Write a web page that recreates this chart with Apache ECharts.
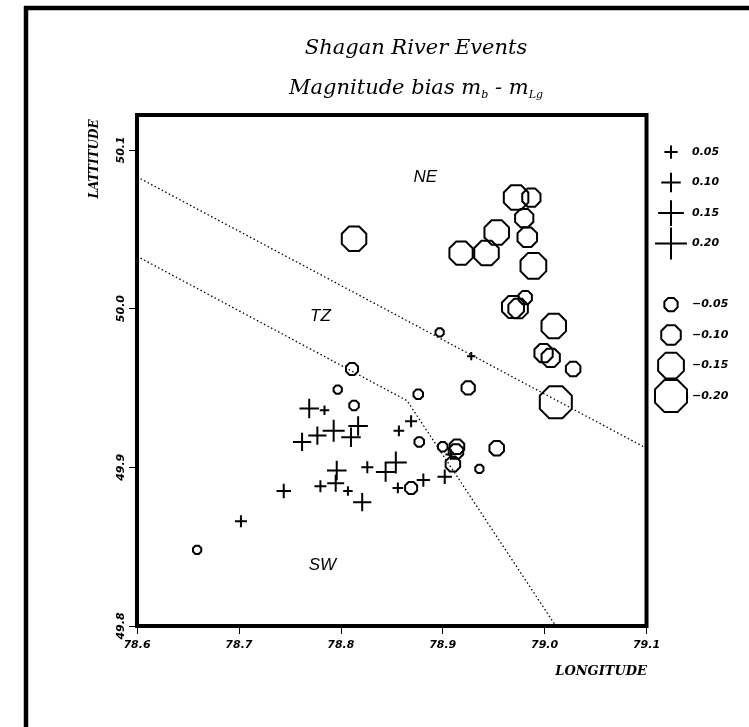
<!DOCTYPE html>
<html>
<head>
<meta charset="utf-8">
<script src="https://cdn.jsdelivr.net/npm/echarts@6/dist/echarts.min.js"></script>
<style>
  html, body { margin: 0; padding: 0; background: #fff; }
  #chart { width: 749px; height: 727px; }
</style>
</head>
<body>
<div id="chart"></div>
<script>
// Events with positive magnitude bias mb - mLg: [longitude, latitude, bias]
const positiveEvents = [
  [78.769, 49.937, 0.10], [78.784, 49.936, 0.02], [78.793, 49.923, 0.12],
  [78.777, 49.920, 0.09], [78.762, 49.916, 0.09], [78.817, 49.926, 0.10],
  [78.810, 49.919, 0.10], [78.796, 49.898, 0.10], [78.795, 49.890, 0.08],
  [78.780, 49.888, 0.04], [78.807, 49.885, 0.02], [78.821, 49.878, 0.09],
  [78.744, 49.885, 0.06], [78.826, 49.900, 0.04], [78.844, 49.897, 0.10],
  [78.854, 49.903, 0.12], [78.857, 49.923, 0.03], [78.856, 49.887, 0.03],
  [78.869, 49.929, 0.04], [78.881, 49.892, 0.05], [78.902, 49.894, 0.06],
  [78.908, 49.908, 0.03], [78.702, 49.866, 0.04], [78.928, 49.970, 0.01]
];

// Events with negative magnitude bias: [longitude, latitude, bias]
const negativeEvents = [
  [78.972, 50.070, -0.14], [78.987, 50.070, -0.09], [78.980, 50.057, -0.09],
  [78.953, 50.048, -0.14], [78.983, 50.045, -0.10], [78.918, 50.035, -0.13],
  [78.943, 50.035, -0.14], [78.989, 50.027, -0.15], [78.969, 50.001, -0.12],
  [78.974, 50.000, -0.10], [78.981, 50.007, -0.05], [79.009, 49.989, -0.14],
  [78.999, 49.972, -0.09], [79.006, 49.969, -0.09], [79.028, 49.962, -0.06],
  [79.011, 49.941, -0.20], [78.925, 49.950, -0.05], [78.897, 49.985, -0.01],
  [78.876, 49.946, -0.02], [78.813, 50.044, -0.14], [78.811, 49.962, -0.04],
  [78.797, 49.949, -0.01], [78.813, 49.939, -0.02], [78.659, 49.848, -0.01],
  [78.877, 49.916, -0.02], [78.900, 49.913, -0.02], [78.914, 49.913, -0.06],
  [78.913, 49.910, -0.06], [78.910, 49.902, -0.06], [78.953, 49.912, -0.06],
  [78.936, 49.899, -0.01], [78.869, 49.887, -0.04]
];

// Zone boundaries (NE / TZ and TZ / SW)
const boundaryNE = [[78.6, 50.083], [79.1, 49.912]];
const boundarySW = [[78.6, 50.033], [78.865, 49.942], [79.011, 49.8]];

// Zone names and where they sit
const zoneNames = ['NE', 'TZ', 'SW'];
const zoneLon = [78.883, 78.780, 78.782];
const zoneLat = [50.083, 49.995, 49.838];

// Axis ticks
const lonTicks = [78.6, 78.7, 78.8, 78.9, 79.0, 79.1];
const latTicks = [49.8, 49.9, 50.0, 50.1];

// Key entries
const keyPositive = [0.05, 0.10, 0.15, 0.20];
const keyNegative = [-0.05, -0.10, -0.15, -0.20];

const PLUS = 'path://M0,50 L100,50 M50,0 L50,100';
const OCTAGON = 'path://M192.4,138.3 L138.3,192.4 L61.7,192.4 L7.6,138.3 L7.6,61.7 L61.7,7.6 L138.3,7.6 L192.4,61.7 Z';

function markSize(v) { return 7 + 125 * Math.abs(v); }
function fmtBias(v) { return (v < 0 ? '\u2212' : '') + Math.abs(v).toFixed(2); }

const keyCats = keyPositive.map(fmtBias).concat([' ']).concat(keyNegative.map(fmtBias));
const keyPlusData = keyPositive.map((v, i) => [0.5, i, v]);
const keyOctData = keyNegative.map((v, i) => [0.5, keyPositive.length + 1 + i, v]);

const tickFont = { fontFamily: 'DejaVu Sans', fontStyle: 'italic', fontWeight: 'bold', fontSize: 11, color: '#000' };
const markStyle = { color: 'transparent', borderColor: '#000', borderWidth: 2, opacity: 1 };
const serif = 'DejaVu Serif';

const chart = echarts.init(document.getElementById('chart'), null, { renderer: 'canvas' });

chart.setOption({
  animation: false,
  backgroundColor: '#fff',
  title: [
    {
      text: 'Shagan River Events',
      left: 411, top: 33, textAlign: 'center',
      textStyle: { fontFamily: serif, fontStyle: 'italic', fontWeight: 'normal', fontSize: 21, color: '#000' }
    },
    {
      text: '{t|Magnitude bias m}{s|b}{t| - m}{s|Lg}',
      left: 411, top: 72, textAlign: 'center',
      textStyle: {
        fontWeight: 'normal',
        rich: {
          t: { fontFamily: serif, fontStyle: 'italic', fontWeight: 'normal', fontSize: 21, color: '#000', lineHeight: 24 },
          s: { fontFamily: serif, fontStyle: 'italic', fontWeight: 'normal', fontSize: 11, color: '#000', lineHeight: 12, verticalAlign: 'bottom' }
        }
      }
    }
  ],
  grid: [
    { left: 137, top: 115, right: 102.5, bottom: 101, show: true, borderColor: '#000', borderWidth: 4, backgroundColor: 'transparent' },
    { left: 655, top: 136.75, width: 32, height: 274.5 }
  ],
  xAxis: [
    {
      type: 'value', gridIndex: 0, min: 78.6, max: 79.1,
      axisLine: { show: false },
      axisTick: { show: true, customValues: lonTicks, length: 8, lineStyle: { color: '#000', width: 1 } },
      axisLabel: Object.assign({ customValues: lonTicks, margin: 14, formatter: v => v.toFixed(1) }, tickFont),
      splitLine: { show: false }
    },
    { type: 'value', gridIndex: 1, min: 0, max: 1, show: false }
  ],
  yAxis: [
    {
      type: 'value', gridIndex: 0, min: 49.8, max: 50.122,
      axisLine: { show: false },
      axisTick: { show: true, customValues: latTicks, length: 8, lineStyle: { color: '#000', width: 1 } },
      axisLabel: Object.assign({ customValues: latTicks, margin: 10, rotate: 90, formatter: v => v.toFixed(1) }, tickFont),
      splitLine: { show: false }
    },
    {
      type: 'category', gridIndex: 1, data: keyCats, inverse: true, position: 'right',
      axisLine: { show: false }, axisTick: { show: false },
      axisLabel: Object.assign({ margin: 5, align: 'left' }, tickFont)
    }
  ],
  series: [
    {
      type: 'line', data: boundaryNE, showSymbol: false, silent: true,
      lineStyle: { color: '#000', width: 1.3, type: [1.5, 2.5], opacity: 1 }
    },
    {
      type: 'line', data: boundarySW, showSymbol: false, silent: true,
      lineStyle: { color: '#000', width: 1.3, type: [1.5, 2.5], opacity: 1 }
    },
    {
      type: 'scatter', data: negativeEvents, symbol: OCTAGON,
      symbolSize: v => markSize(v[2]), itemStyle: markStyle, silent: true
    },
    {
      type: 'scatter', data: positiveEvents, symbol: PLUS,
      symbolSize: v => markSize(v[2]), itemStyle: markStyle, silent: true
    },
    {
      type: 'scatter', silent: true, symbolSize: 1,
      data: zoneNames.map((n, i) => ({ name: n, value: [zoneLon[i], zoneLat[i]] })),
      itemStyle: { color: 'transparent', opacity: 1 },
      label: {
        show: true, position: 'inside', formatter: p => p.name,
        fontFamily: 'Liberation Sans', fontStyle: 'italic', fontSize: 17, color: '#000'
      }
    },
    {
      type: 'scatter', xAxisIndex: 1, yAxisIndex: 1, data: keyPlusData, symbol: PLUS,
      symbolSize: v => markSize(v[2]), itemStyle: markStyle, silent: true
    },
    {
      type: 'scatter', xAxisIndex: 1, yAxisIndex: 1, data: keyOctData, symbol: OCTAGON,
      symbolSize: v => markSize(v[2]), itemStyle: markStyle, silent: true
    }
  ],
  graphic: [
    { type: 'line', shape: { x1: 26, y1: 6, x2: 26, y2: 727 }, style: { stroke: '#000', lineWidth: 4.5 } },
    { type: 'line', shape: { x1: 24, y1: 8, x2: 749, y2: 8 }, style: { stroke: '#000', lineWidth: 4.5 } },
    {
      type: 'text', x: 95, y: 159, rotation: Math.PI / 2,
      style: { text: 'LATTITUDE', font: 'italic bold 12px "DejaVu Serif"', fill: '#000', align: 'center', verticalAlign: 'middle' }
    },
    {
      type: 'text', x: 647, y: 672,
      style: { text: 'LONGITUDE', font: 'italic bold 13px "DejaVu Serif"', fill: '#000', align: 'right', verticalAlign: 'middle' }
    }
  ]
});
</script>
</body>
</html>
